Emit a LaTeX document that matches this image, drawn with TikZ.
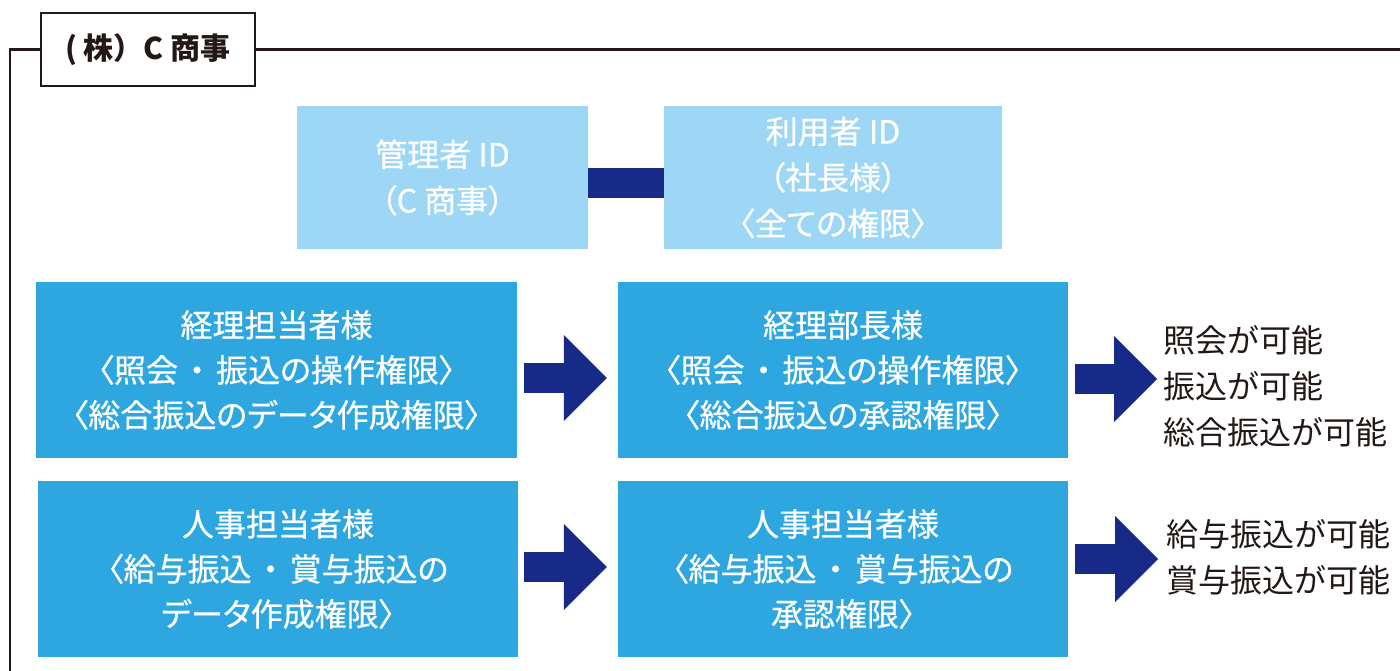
\documentclass[tikz,border=0pt]{standalone}
\usepackage{fontspec}
\setmainfont{Noto Sans CJK JP}
\newfontfamily\boxfont[RawFeature=+palt, FakeBold=0.6]{Noto Sans CJK JP}
\usetikzlibrary{arrows.meta, positioning}
\definecolor{roleblue}{RGB}{46, 167, 224}
\definecolor{idblue}{RGB}{157, 215, 245}
\definecolor{navy1}{RGB}{24, 42, 135}
\definecolor{ink1}{RGB}{35, 24, 21}
\newcommand{\nakaguro}{\hspace{11pt}・\hspace{11pt}}

\begin{document}
\begin{tikzpicture}[x=1pt, y=-1pt,
  idbox/.style={fill=idblue, text=white, minimum height=143pt, inner sep=0pt, align=center, font=\boxfont\fontsize{32pt}{46pt}\selectfont},
  rolebox/.style={fill=roleblue, text=white, minimum height=176pt, inner sep=0pt, align=center, font=\boxfont\fontsize{32pt}{45pt}\selectfont},
  result/.style={text=ink1, anchor=west, inner sep=0pt, align=left, font=\fontsize{32pt}{46pt}\selectfont},
  frameline/.style={ink1, line width=2.5pt},
  bigarrow/.style={navy1, line width=30pt, -{Triangle[length=43pt, width=86pt, line width=0pt]}}]
  \useasboundingbox (0,0) rectangle (1400,671);

  % Company frame
  \node[draw=ink1, line width=2.5pt, minimum width=214pt, minimum height=73pt, inner sep=0pt, text=ink1, font=\bfseries\fontsize{30pt}{36pt}\selectfont] (firm) at (148, 49.5) {( 株）C 商事};
  \coordinate (frameright) at (1400, 49.5);
  \coordinate (framebottom) at (10, 671);
  \draw[frameline] (firm.west) -| (framebottom);
  \draw[frameline] (firm.east) -- (frameright);

  % IDs
  \node[idbox, minimum width=291pt] (admin) at (442.5, 177.5) {管理者 ID\\（C 商事）};
  \node[idbox, minimum width=338pt] (user) at (833, 177.5) {利用者 ID\\（社長様）\\〈全ての権限〉};
  \draw[navy1, line width=30pt] ([yshift=-5.5pt]admin.east) -- ([yshift=-5.5pt]user.west);

  % Accounting
  \node[rolebox, minimum width=481pt] (acct) at (276.5, 370) {経理担当者様\\〈照会\nakaguro 振込の操作権限〉\\〈総合振込のデータ作成権限〉};
  \node[rolebox, minimum width=450pt] (acctmgr) at (843, 370) {経理部長様\\〈照会\nakaguro 振込の操作権限〉\\〈総合振込の承認権限〉};
  \node[result] (acctok) at (1163, 386) {照会が可能\\振込が可能\\総合振込が可能};

  \draw[bigarrow, shorten <=7pt, shorten >=11pt] ([yshift=-8pt]acct.east) -- ([yshift=-8pt]acctmgr.west);
  \draw[bigarrow, shorten <=7pt, shorten >=6pt] ([yshift=-9pt]acctmgr.east) -- ([yshift=7pt]acctok.west);

  % Personnel
  \node[rolebox, minimum width=480pt] (hr) at (278, 569) {人事担当者様\\〈給与振込\nakaguro 賞与振込の\\データ作成権限〉};
  \node[rolebox, minimum width=450pt] (hrmgr) at (843, 569) {人事担当者様\\〈給与振込\nakaguro 賞与振込の\\承認権限〉};
  \node[result] (hrok) at (1166, 557.5) {給与振込が可能\\賞与振込が可能};

  \draw[bigarrow, shorten <=6pt, shorten >=11pt] ([yshift=2pt]hr.east) -- ([yshift=2pt]hrmgr.west);
  \draw[bigarrow, shorten <=7pt, shorten >=8pt] ([yshift=10pt]hrmgr.east) -- ([yshift=-1.5pt]hrok.west);
\end{tikzpicture}
\end{document}
